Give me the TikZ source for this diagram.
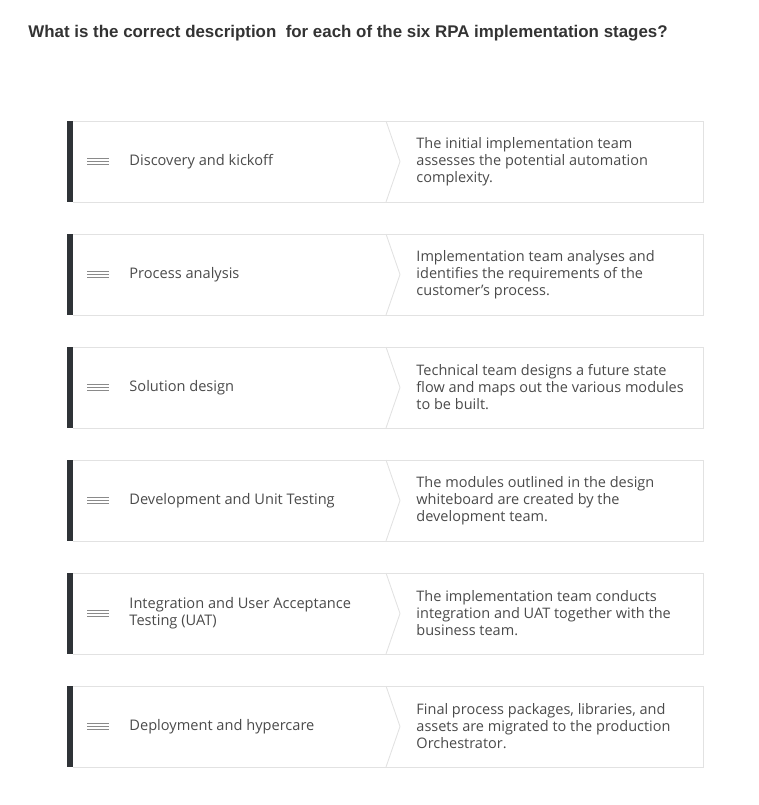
\documentclass[tikz,border=0pt]{standalone}
\usepackage{fontspec}
\setmainfont{Open Sans}
\newfontfamily\titlefont{Liberation Sans}
\usetikzlibrary{positioning}
\usetikzlibrary{calc}

\definecolor{edgegray}{HTML}{E2E2E2}
\definecolor{bargray}{HTML}{2F3337}
\definecolor{textgray}{HTML}{4A4A4A}
\definecolor{icongray}{HTML}{8A8A8A}

\tikzset{
    stagelabel/.style={anchor=west, inner sep=0, align=left,
        text=textgray, font=\fontsize{14.6}{17}\selectfont},
    desclabel/.style={anchor=west, inner sep=0, align=left,
        text=textgray, font=\fontsize{14.5}{17}\selectfont},
}

\begin{document}
\begin{tikzpicture}[x=1pt, y=-1pt, line width=.9pt]
    \newcommand\rowtop{121}
    \newcommand\rowh{81}
    \newcommand\rowgap{113}
    \newcommand\chevx{386}
    \newcommand\tipx{400}

    % one card: number, stage, description
    \newcommand\stagecard[3]{
        \pgfmathsetmacro\cardtop{\rowtop + (#1 - 1) * \rowgap}
        \pgfmathsetmacro\cardbot{\cardtop + \rowh}
        \pgfmathsetmacro\cardmid{\cardtop + 0.5 * \rowh}

        \draw[edgegray] (73, \cardtop) -- (703, \cardtop) -- (703, \cardbot) -- (73, \cardbot);
        \draw[edgegray] (\chevx, \cardtop) -- (\tipx, \cardmid) -- (\chevx, \cardbot);
        \fill[bargray] (67, \cardtop) rectangle (73, \cardbot);

        \foreach \dy in {-3, 0, 3}
            \draw[icongray, line width=.7pt] (87, \cardmid + \dy) -- (109, \cardmid + \dy);

        \node[stagelabel] (stage-#1) at (129, \cardmid) {#2};
        \node[desclabel] (desc-#1) at (416, \cardmid) {#3};
    }

    \useasboundingbox (0, 0) rectangle (758, 805);

    \node[anchor=west, inner sep=0, text=black!80,
        font=\titlefont\fontsize{16.9}{20}\selectfont\bfseries] (question) at (28, 33.5)
        {What is the correct description \ for each of the six RPA implementation stages?};

    \stagecard{1}{Discovery and kickoff}
        {The initial implementation team\\assesses the potential automation\\complexity.}
    \stagecard{2}{Process analysis}
        {Implementation team analyses and\\identifies the requirements of the\\customer’s process.}
    \stagecard{3}{Solution design}
        {Technical team designs a future state\\flow and maps out the various modules\\to be built.}
    \stagecard{4}{Development and Unit Testing}
        {The modules outlined in the design\\whiteboard are created by the\\development team.}
    \stagecard{5}{Integration and User Acceptance\\Testing (UAT)}
        {The implementation team conducts\\integration and UAT together with the\\business team.}
    \stagecard{6}{Deployment and hypercare}
        {Final process packages, libraries, and\\assets are migrated to the production\\Orchestrator.}
\end{tikzpicture}
\end{document}
